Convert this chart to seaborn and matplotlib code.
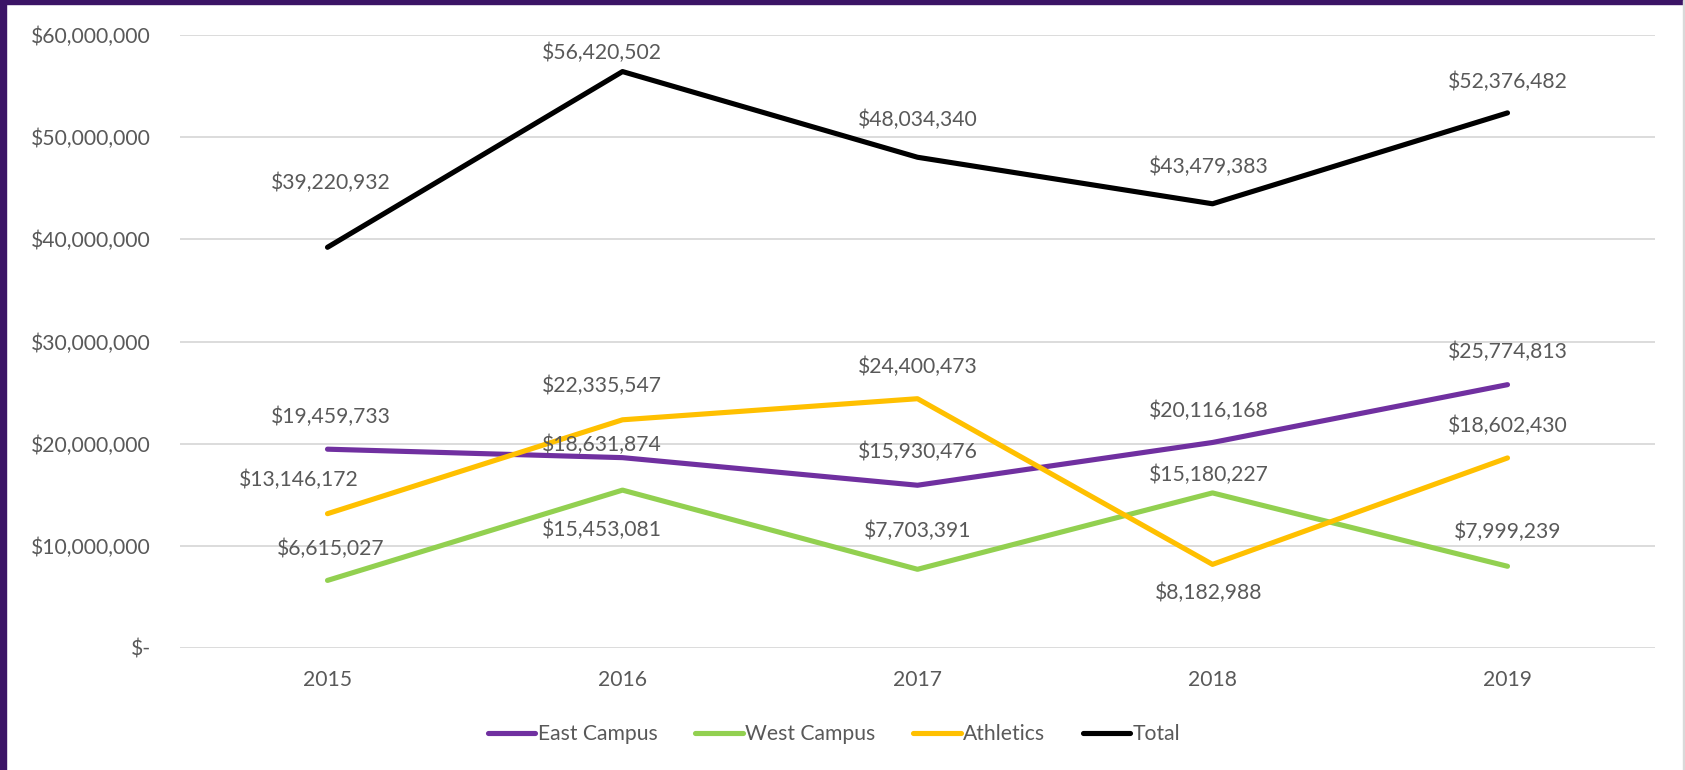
import matplotlib
matplotlib.use("Agg")
import matplotlib.pyplot as plt
import seaborn as sns
import pandas as pd
from matplotlib.patches import Rectangle
from matplotlib.lines import Line2D
from matplotlib.ticker import FuncFormatter

years = ["2015", "2016", "2017", "2018", "2019"]
east_campus = [19459733, 18631874, 15930476, 20116168, 25774813]
west_campus = [6615027, 15453081, 7703391, 15180227, 7999239]
athletics = [13146172, 22335547, 24400473, 8182988, 18602430]
total = [39220932, 56420502, 48034340, 43479383, 52376482]
series_names = ["East Campus", "West Campus", "Athletics", "Total"]

series_values = [east_campus, west_campus, athletics, total]
colors = ["#7030A0", "#92D050", "#FFC000", "#000000"]
# label offsets in pixels (dx, dy)
offsets = [
    [(3, 32), (-21, 13), (0, 33), (-4, 32), (0, 33)],
    [(3, 32), (-21, -40), (0, 38), (-4, 18), (0, 34)],
    [(-29, 34), (-21, 34), (0, 32), (-4, -28), (0, 32)],
    [(3, 64), (-21, 19), (0, 37), (-4, 37), (0, 31)],
]

rows = []
for name, vals in zip(series_names, series_values):
    for i, v in enumerate(vals):
        rows.append({"x": i, "Year": years[i], "Series": name, "Value": v})
df = pd.DataFrame(rows)

sns.set_theme(style="white")
plt.rcParams["font.family"] = ["Lato", "DejaVu Sans"]
text_color = "#595959"
fs = 15.2

fig = plt.figure(figsize=(16.85, 7.7), dpi=100)
ax = fig.add_axes([180 / 1685, 1 - 648 / 770, (1655 - 180) / 1685, (648 - 35) / 770])

sns.lineplot(data=df, x="x", y="Value", hue="Series", hue_order=series_names,
             palette=colors, linewidth=3.7, ax=ax, legend=False,
             solid_capstyle="round", sort=False)

ax.set_xlim(-0.5, 4.5)
ax.set_ylim(0, 60000000)
ax.set_yticks(range(0, 60000001, 10000000))
ax.yaxis.set_major_formatter(FuncFormatter(lambda v, p: "$-" if v == 0 else f"${v:,.0f}"))
ax.set_xticks(range(len(years)))
ax.set_xticklabels(years)
ax.set_xlabel("")
ax.set_ylabel("")
ax.grid(axis="y", color="#D9D9D9", linewidth=1.3)
ax.grid(axis="x", visible=False)
for s in ax.spines.values():
    s.set_visible(False)
ax.tick_params(axis="both", length=0, labelsize=fs, colors=text_color)
ax.tick_params(axis="y", pad=21)
ax.tick_params(axis="x", pad=16)

for name, vals, offs in zip(series_names, series_values, offsets):
    for i, v in enumerate(vals):
        ax.annotate(f"${v:,.0f}", (i, v), xytext=offs[i], textcoords="offset pixels",
                    ha="center", va="center", fontsize=fs, color=text_color)

handles = [Line2D([0], [0], color=c, lw=3.7, solid_capstyle="round") for c in colors]
fig.legend(handles, series_names, loc="center", bbox_to_anchor=(0.495, 1 - 734 / 770),
           ncol=4, frameon=False, fontsize=fs, handlelength=2.25,
           handletextpad=0.1, columnspacing=1.8, labelcolor=text_color)

# frame border
fig.patches.append(Rectangle((0, 0), 6 / 1685, 1, transform=fig.transFigure,
                             color="#3B1466", zorder=10))
fig.patches.append(Rectangle((0, 1 - 4 / 770), 1, 4 / 770, transform=fig.transFigure,
                             color="#3B1466", zorder=10))
fig.patches.append(Rectangle((1 - 2 / 1685, 0), 2 / 1685, 1, transform=fig.transFigure,
                             color="#D9D9D9", zorder=10))

fig.savefig("out.png", dpi=100)
